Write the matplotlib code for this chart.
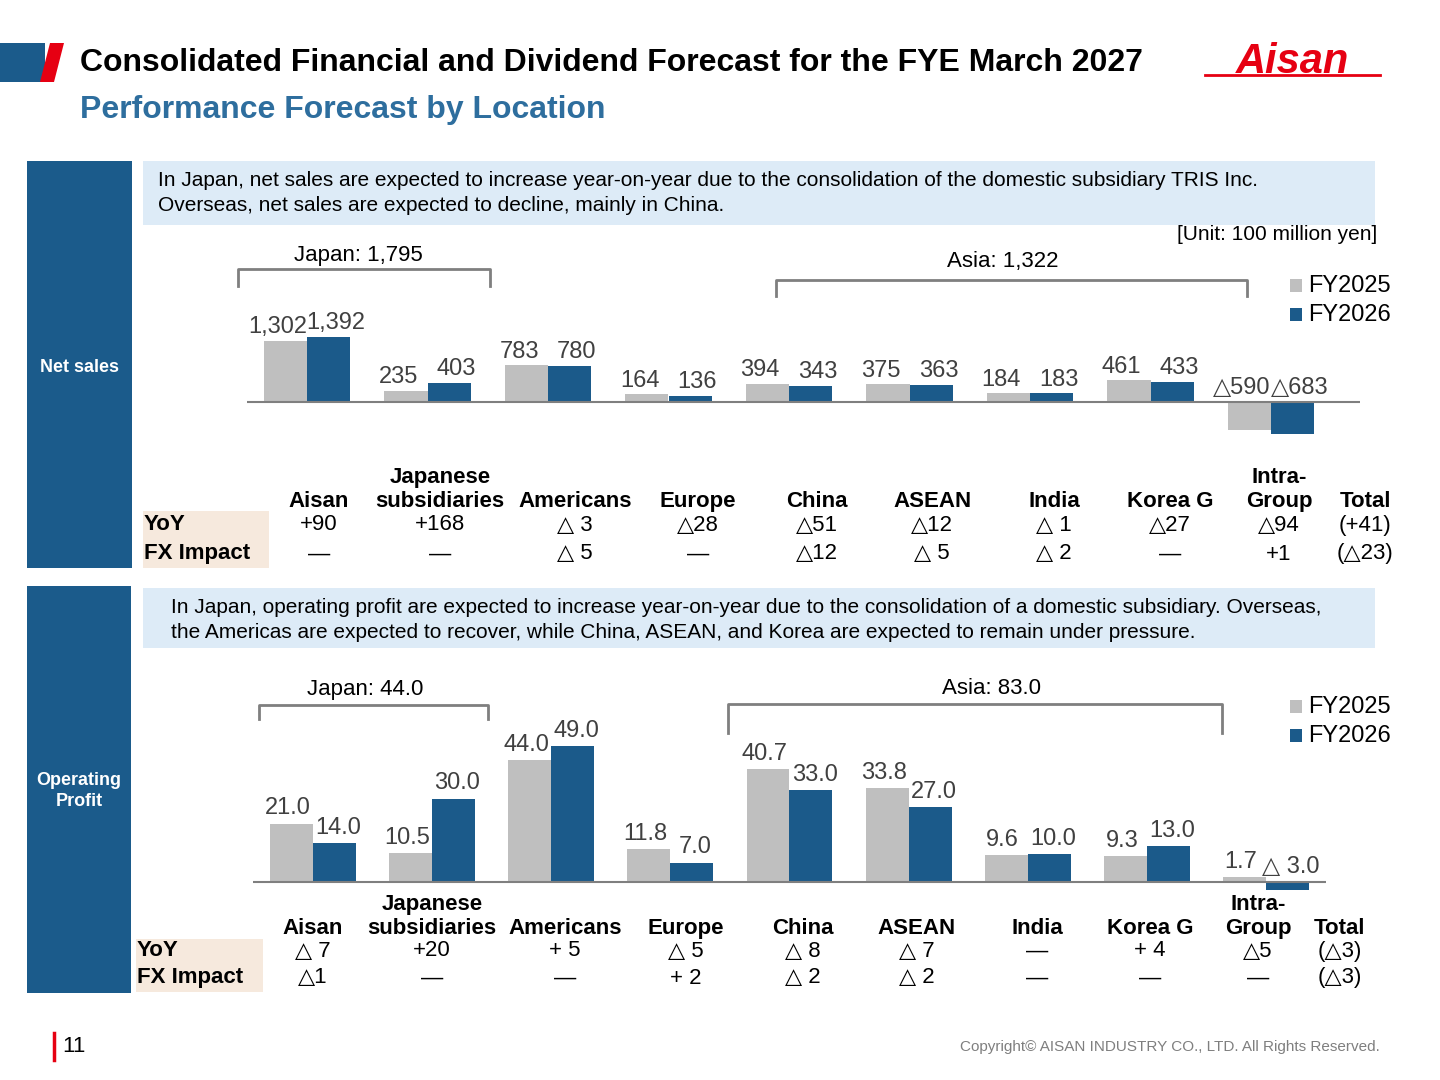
import matplotlib
matplotlib.use("Agg")
import matplotlib.pyplot as plt
from matplotlib.patches import Rectangle, Polygon

plt.rcParams['font.family'] = ['Liberation Sans', 'DejaVu Sans']

GRAY = "#BFBFBF"; BLUE = "#1B5A8A"; PANEL = "#1B5B8B"; TEAL = "#2E6E9E"
W, H = 1440, 1080

regions = ["Aisan", "Japanese\nsubsidiaries", "Americans", "Europe", "China",
           "ASEAN", "India", "Korea G", "Intra-\nGroup"]
sales_25 = [1302, 235, 783, 164, 394, 375, 184, 461, -590]
sales_26 = [1392, 403, 780, 136, 343, 363, 183, 433, -683]
sales_lbl25 = ["1,302", "235", "783", "164", "394", "375", "184", "461", "△590"]
sales_lbl26 = ["1,392", "403", "780", "136", "343", "363", "183", "433", "△683"]
sales_yoy = ["+90", "+168", "△ 3", "△28", "△51", "△12", "△ 1", "△27", "△94", "(+41)"]
sales_fx = ["—", "—", "△ 5", "—", "△12", "△ 5", "△ 2", "—", "+1", "(△23)"]

op_25 = [21.0, 10.5, 44.0, 11.8, 40.7, 33.8, 9.6, 9.3, 1.7]
op_26 = [14.0, 30.0, 49.0, 7.0, 33.0, 27.0, 10.0, 13.0, -3.0]
op_lbl26 = ["14.0", "30.0", "49.0", "7.0", "33.0", "27.0", "10.0", "13.0", "△ 3.0"]
op_yoy = ["△ 7", "+20", "+ 5", "△ 5", "△ 8", "△ 7", "—", "+ 4", "△5", "(△3)"]
op_fx = ["△1", "—", "—", "+ 2", "△ 2", "△ 2", "—", "—", "—", "(△3)"]

fig = plt.figure(figsize=(14.4, 10.8), dpi=100)

def fx(x): return x / W
def fy(y): return 1 - y / H
def ftext(x, y, s, **kw):
    fig.text(fx(x), fy(y), s, **kw)
def frect(x0, y0, x1, y1, **kw):
    fig.patches.append(Rectangle((fx(x0), fy(y1)), fx(x1) - fx(x0), fy(y0) - fy(y1),
                                 transform=fig.transFigure, **kw))
def fline(xs, ys, **kw):
    fig.add_artist(plt.Line2D([fx(x) for x in xs], [fy(y) for y in ys], **kw))

# header
frect(0, 43, 45, 82, color=PANEL, lw=0)
fig.patches.append(Polygon([(fx(40), fy(82)), (fx(50), fy(43)), (fx(64), fy(43)), (fx(54), fy(82))],
                           closed=True, transform=fig.transFigure, color="#E60012", lw=0))
ftext(80, 63, "Consolidated Financial and Dividend Forecast for the FYE March 2027",
      fontsize=23, fontweight="bold", va="center")
ftext(80, 110, "Performance Forecast by Location", fontsize=23, fontweight="bold",
      color=TEAL, va="center")
ftext(1292, 62, "Aisan", fontsize=30, fontweight="bold", style="italic", color="#E60012",
      ha="center", va="center")
fline([1205, 1380], [75, 75], color="#E60012", lw=2)

# left panels
frect(27, 161, 132, 568, color=PANEL, lw=0)
frect(27, 586, 131, 993, color=PANEL, lw=0)
ftext(80, 367, "Net sales", color="white", fontsize=13, fontweight="bold", ha="center", va="center")
ftext(79, 791, "Operating\nProfit", color="white", fontsize=13, fontweight="bold",
      ha="center", va="center", linespacing=1.3)

# description boxes
frect(143, 161, 1375, 225, color="#DDEBF7", lw=0)
ftext(158, 193, "In Japan, net sales are expected to increase year-on-year due to the consolidation of the domestic subsidiary TRIS Inc.\n"
      "Overseas, net sales are expected to decline, mainly in China.", fontsize=15, va="center", linespacing=1.45)
frect(143, 588, 1375, 648, color="#DDEBF7", lw=0)
ftext(171, 620, "In Japan, operating profit are expected to increase year-on-year due to the consolidation of a domestic subsidiary. Overseas,\n"
      "the Americas are expected to recover, while China, ASEAN, and Korea are expected to remain under pressure.",
      fontsize=15, va="center", linespacing=1.45)
ftext(1377, 235, "[Unit: 100 million yen]", fontsize=15, ha="right", va="center")

def bracket(x0, x1, y, y2, label, lx, ly):
    fline([x0, x0, x1, x1], [y2, y, y, y2], color="#7F7F7F", lw=2)
    ftext(lx, ly, label, fontsize=16, ha="center", va="center")

bracket(238, 490, 269, 286, "Japan: 1,795", 358, 255)
bracket(776, 1247, 280, 296, "Asia: 1,322", 1003, 261)
bracket(259, 488, 705, 719, "Japan: 44.0", 365, 689)
bracket(728, 1222, 704, 733, "Asia: 83.0", 991, 689)

def legend(y):
    frect(1290, y - 7, 1302, y + 6, color=GRAY, lw=0)
    ftext(1308, y, "FY2025", fontsize=17, va="center")
    frect(1290, y + 22, 1302, y + 35, color=BLUE, lw=0)
    ftext(1308, y + 29, "FY2026", fontsize=17, va="center")
legend(286)
legend(707)

def chart(top, bottom, left, right, xmax, ylim, v25, v26, l25, l26, bw, off, spread):
    ax = fig.add_axes([fx(left), fy(bottom), fx(right) - fx(left), fy(top) - fy(bottom)])
    x = list(range(len(v25)))
    ax.bar([i - bw / 2 for i in x], v25, bw, color=GRAY)
    ax.bar([i + bw / 2 for i in x], v26, bw, color=BLUE)
    ax.axhline(0, color="#7F7F7F", lw=1.5)
    ax.set_xlim(-0.5, xmax)
    ax.set_ylim(*ylim)
    ax.axis("off")
    for i in x:
        for dx, v, s in ((-bw / 2 - spread, v25[i], l25[i]), (bw / 2 + spread, v26[i], l26[i])):
            yv = max(v, 0) + off
            ax.text(i + dx, yv, s, ha="center", va="bottom", fontsize=17, color="#404040")
    return ax

# net sales chart: centres 307..1271, pitch 120.5
chart(300, 440, 307 - 60.25, 307 - 60.25 + 120.5 * 9.24, 8.74, (-814, 2184),
      sales_25, sales_26, sales_lbl25, sales_lbl26, 0.36, 60, 0.06)
# operating profit chart: centres 313..1266, pitch 119.1
chart(700, 900, 313 - 59.6, 1266 + 59.6, 8.5, (-6.5, 65.5),
      op_25, op_26, [f"{v:.1f}" for v in op_25], op_lbl26, 0.36, 1.5, 0.03)

def table(xs, xt, yh, yy, yf, yoy, fxi, bx0, bx1, by0, by1):
    frect(bx0, by0, bx1, by1, color="#F6E9DD", lw=0)
    ftext(bx0 + 1, yy, "YoY", fontsize=16, fontweight="bold", va="center")
    ftext(bx0 + 1, yf, "FX Impact", fontsize=16, fontweight="bold", va="center")
    for i, r in enumerate(regions):
        ftext(xs[i], yh, r, fontsize=16, fontweight="bold", ha="center", va="bottom",
              linespacing=1.2)
    ftext(xt, yh, "Total", fontsize=16, fontweight="bold", ha="center", va="bottom")
    allx = xs + [xt]
    for i in range(len(allx)):
        ftext(allx[i], yy, yoy[i], fontsize=16, ha="center", va="center")
        ftext(allx[i], yf, fxi[i], fontsize=16, ha="center", va="center")

table([319, 440, 575, 698, 817, 932, 1054, 1170, 1279], 1365, 512, 525, 554,
      sales_yoy, sales_fx, 143, 269, 511, 568)
table([313, 432, 565, 686, 803, 917, 1037, 1150, 1258], 1340, 939, 951, 978,
      op_yoy, op_fx, 136, 263, 939, 992)

fline([54, 54], [1033, 1060], color="#E60012", lw=2.5)
ftext(62, 1047, "11", fontsize=16, va="center")
ftext(1380, 1047, "Copyright© AISAN INDUSTRY CO., LTD. All Rights Reserved.", fontsize=11,
      color="#7F7F7F", ha="right", va="center")

fig.savefig("out.png", dpi=100)
